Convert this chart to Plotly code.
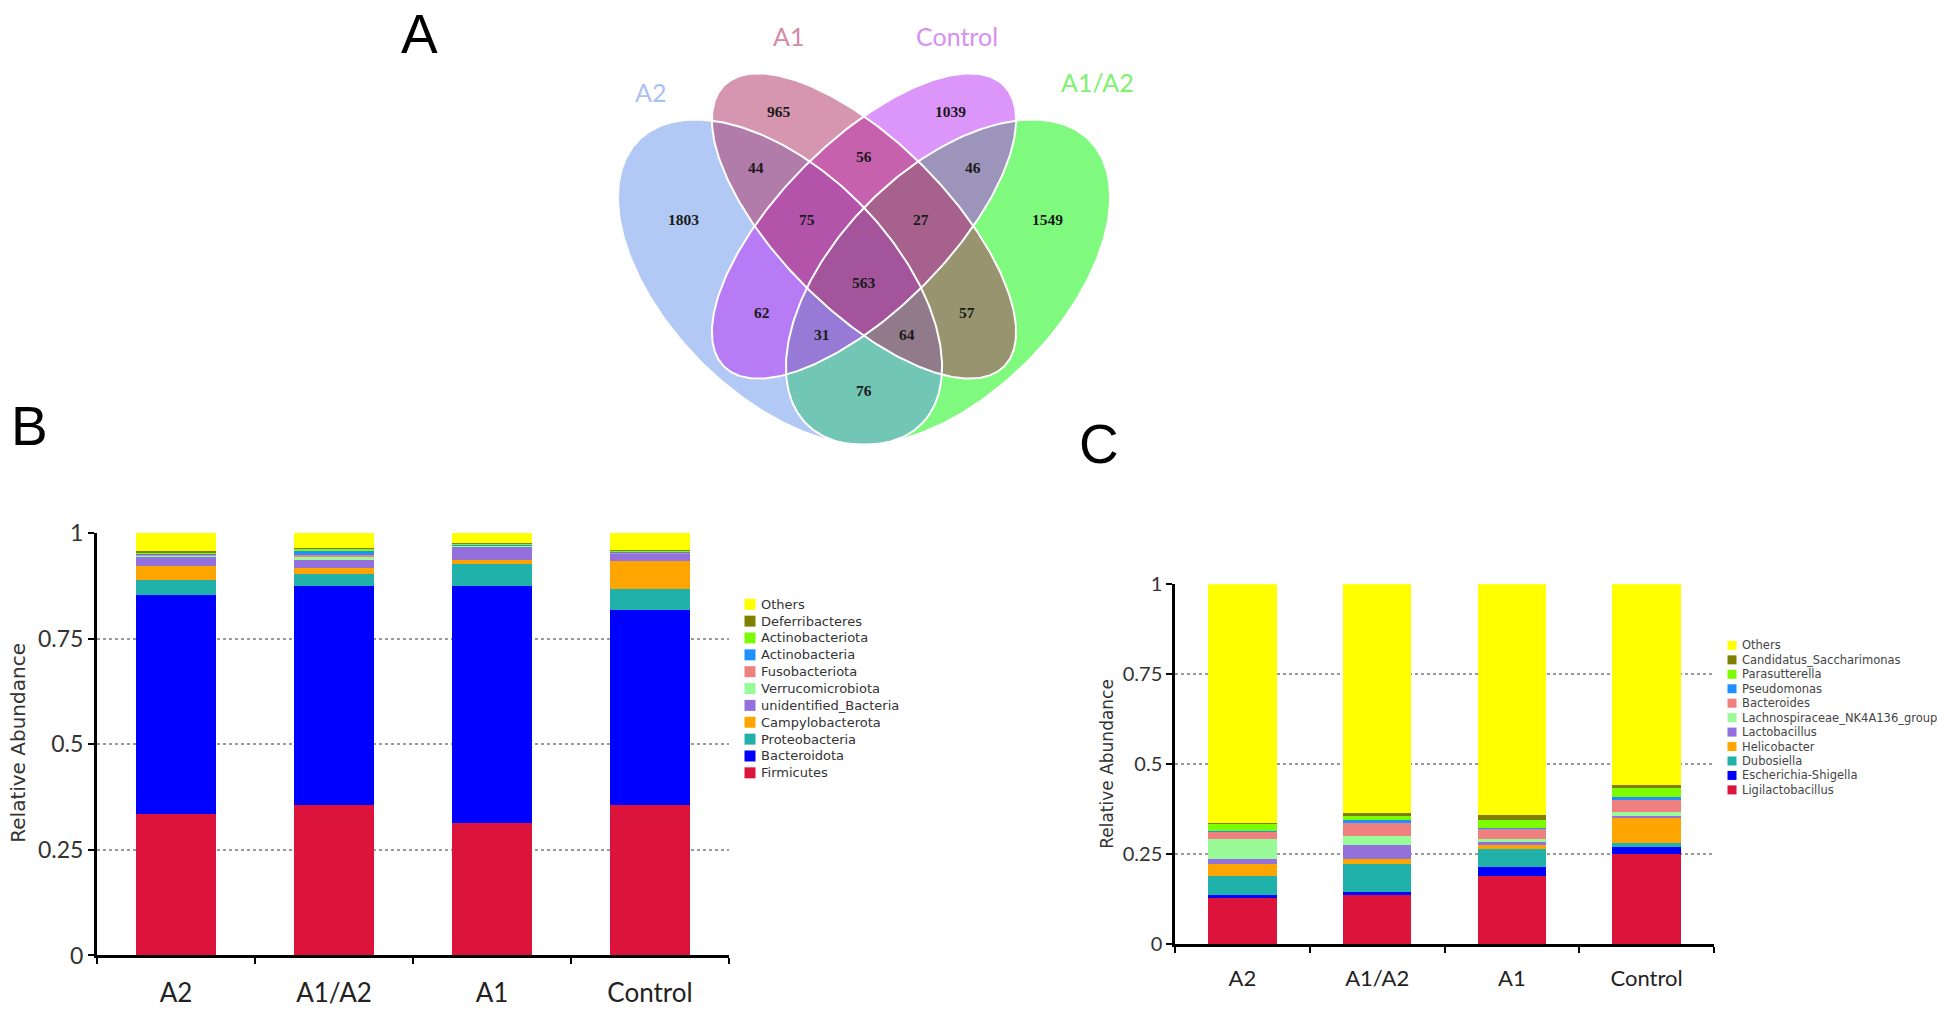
import numpy as np
import plotly.graph_objects as go

W, H = 1944, 1009

# ---------------- DATA ----------------
groups = ["A2", "A1/A2", "A1", "Control"]

# Panel A: Venn counts (OTUs)
venn_set_names = ["A2", "A1", "Control", "A1/A2"]
venn_regions = ["A2", "A1", "Control", "A1/A2",
                "A2&A1", "A1&Control", "Control&A1/A2",
                "A2&A1&Control", "A1&Control&A1/A2", "all",
                "A2&Control", "A1&A1/A2", "A2&Control&A1/A2", "A2&A1&A1/A2", "A2&A1/A2"]
venn_counts = [1803, 965, 1039, 1549,
               44, 56, 46,
               75, 27, 563,
               62, 57, 31, 64, 76]

# Panel B: phylum level relative abundance (bottom -> top)
phyla = ["Firmicutes", "Bacteroidota", "Proteobacteria", "Campylobacterota",
         "unidentified_Bacteria", "Verrucomicrobiota", "Fusobacteriota",
         "Actinobacteria", "Actinobacteriota", "Deferribacteres", "Others"]
firmicutes            = [0.335, 0.356, 0.313, 0.356]
bacteroidota          = [0.519, 0.519, 0.561, 0.461]
proteobacteria        = [0.034, 0.029, 0.052, 0.050]
campylobacterota      = [0.034, 0.014, 0.011, 0.066]
unidentified_bacteria = [0.022, 0.018, 0.032, 0.018]
verrucomicrobiota     = [0.001, 0.009, 0.001, 0.001]
fusobacteriota        = [0.005, 0.002, 0.001, 0.001]
actinobacteria        = [0.001, 0.012, 0.001, 0.001]
actinobacteriota      = [0.004, 0.004, 0.004, 0.005]
deferribacteres       = [0.002, 0.001, 0.001, 0.001]
others_phylum         = [0.043, 0.036, 0.023, 0.040]
phylum_values = [firmicutes, bacteroidota, proteobacteria, campylobacterota,
                 unidentified_bacteria, verrucomicrobiota, fusobacteriota,
                 actinobacteria, actinobacteriota, deferribacteres, others_phylum]

# Panel C: genus level relative abundance (bottom -> top)
genera = ["Ligilactobacillus", "Escherichia-Shigella", "Dubosiella", "Helicobacter",
          "Lactobacillus", "Lachnospiraceae_NK4A136_group", "Bacteroides",
          "Pseudomonas", "Parasutterella", "Candidatus_Saccharimonas", "Others"]
ligilactobacillus = [0.129, 0.136, 0.190, 0.252]
escherichia       = [0.009, 0.009, 0.026, 0.018]
dubosiella        = [0.051, 0.079, 0.050, 0.012]
helicobacter      = [0.035, 0.014, 0.011, 0.068]
lactobacillus     = [0.012, 0.037, 0.008, 0.007]
lachnospiraceae   = [0.057, 0.025, 0.007, 0.010]
bacteroides       = [0.019, 0.038, 0.029, 0.033]
pseudomonas       = [0.002, 0.008, 0.002, 0.008]
parasutterella    = [0.021, 0.011, 0.022, 0.025]
candidatus        = [0.002, 0.008, 0.014, 0.009]
others_genus      = [0.663, 0.635, 0.641, 0.558]
genus_values = [ligilactobacillus, escherichia, dubosiella, helicobacter,
                lactobacillus, lachnospiraceae, bacteroides, pseudomonas,
                parasutterella, candidatus, others_genus]

y_ticks = [0, 0.25, 0.5, 0.75, 1]
grid_ticks = [0.25, 0.5, 0.75]

# ---------------- STYLE / LAYOUT CONSTANTS ----------------
stack_colors = ["#DC143C", "#0000FF", "#20B2AA", "#FFA500", "#9370DB",
                "#98FB98", "#F08080", "#1E90FF", "#7CFC00", "#808000", "#FFFF00"]

# vertical calibration of the page (target y = K*page_y + OFF)
K, OFF = 0.969, 16.7


def page_y(y):
    return (y - OFF) / K


# Venn geometry in target-pixel space (cx, cy, a, b, angle); draw order matters
venn_geom = {
    "A1/A2":   (948, 283, 200, 112, -45),
    "A2":      (780, 283, 200, 112, 45),
    "Control": (864, 227, 198, 84, -45),
    "A1":      (864, 227, 198, 84, 45),
}
venn_fill = {
    "A1/A2": "rgba(0,245,0,0.5)",
    "A2": "rgba(101,145,235,0.5)",
    "Control": "rgba(185,45,245,0.5)",
    "A1": "rgba(175,45,95,0.5)",
}
venn_label_color = {"A2": "#a9c2f3", "A1": "#d48aa6", "Control": "#d690f2", "A1/A2": "#7cf26f"}
venn_label_pos = {"A2": (650, 93), "A1": (788, 38), "Control": (957, 38), "A1/A2": (1097, 83)}
venn_region_pos = [(683, 221), (779, 113), (950, 113), (1047, 221),
                   (756, 169), (864, 158), (973, 169),
                   (807, 221), (921, 221), (864, 283),
                   (762, 313), (967, 313), (822, 335), (907, 335), (864, 391)]

# Chart frames in target pixels
B_x0, B_x1, B_y0, B_y1 = 97, 729, 954, 533
C_x0, C_x1, C_y0, C_y1 = 1175, 1714, 943, 584

LABF = "Lato, Open Sans, sans-serif"
LEGF = "DejaVu Sans, Verdana, sans-serif"


def ellipse(cx, cy, a, b, ang_deg, n=300):
    t = np.linspace(0, 2 * np.pi, n)
    ph = np.deg2rad(ang_deg)
    x = cx + a * np.cos(t) * np.cos(ph) - b * np.sin(t) * np.sin(ph)
    y = cy + a * np.cos(t) * np.sin(ph) + b * np.sin(t) * np.cos(ph)
    return x, y


fig = go.Figure()

# ---- Panel B bars ----
for name, vals, col in zip(phyla, phylum_values, stack_colors):
    fig.add_trace(go.Bar(x=groups, y=vals, name=name, marker=dict(color=col, line=dict(width=0)),
                         xaxis="x", yaxis="y", showlegend=False))

# ---- Panel C bars ----
for name, vals, col in zip(genera, genus_values, stack_colors):
    fig.add_trace(go.Bar(x=groups, y=vals, name=name, marker=dict(color=col, line=dict(width=0)),
                         xaxis="x2", yaxis="y2", showlegend=False))

# ---- Panel A Venn ----
for s in ["A1/A2", "A2", "Control", "A1"]:
    ex, ey = ellipse(*venn_geom[s])
    fig.add_trace(go.Scatter(x=ex, y=ey, mode="lines", fill="toself", fillcolor=venn_fill[s],
                             line=dict(width=0), xaxis="x3", yaxis="y3", showlegend=False,
                             hoverinfo="skip"))
for s in ["A1/A2", "A2", "Control", "A1"]:
    ex, ey = ellipse(*venn_geom[s])
    fig.add_trace(go.Scatter(x=ex, y=ey, mode="lines", line=dict(color="white", width=2),
                             xaxis="x3", yaxis="y3", showlegend=False, hoverinfo="skip"))

annotations = []
for cnt, (px, py) in zip(venn_counts, venn_region_pos):
    annotations.append(dict(x=px, y=py, xref="x3", yref="y3", text=str(cnt), showarrow=False,
                            font=dict(family="Liberation Serif, Times New Roman, serif", size=15.5,
                                      color="#1a1a1a", weight=600)))
for s in venn_set_names:
    px, py = venn_label_pos[s]
    annotations.append(dict(x=px, y=py, xref="x3", yref="y3", text=s, showarrow=False,
                            font=dict(family=LABF, size=25, color=venn_label_color[s])))

# ---- custom legends (marker squares + text) ----
def add_legend(names, colors, x_sq, y_top, spacing, sq, fsize, text_x, color):
    ys = [y_top + i * spacing for i in range(len(names))]
    fig.add_trace(go.Scatter(x=[x_sq] * len(names), y=ys, mode="markers",
                             marker=dict(symbol="square", size=sq, color=list(colors), line=dict(width=0)),
                             xaxis="x3", yaxis="y3", showlegend=False, hoverinfo="skip"))
    for nm, yy in zip(names, ys):
        annotations.append(dict(x=text_x, y=yy, xref="x3", yref="y3", text=nm, showarrow=False,
                                xanchor="left", yanchor="middle",
                                font=dict(family=LEGF, size=fsize, color=color)))

add_legend(phyla[::-1], stack_colors[::-1], 750, 604, 16.8, 11, 13, 759, "#333333")
add_legend(genera[::-1], stack_colors[::-1], 1732, 645, 14.4, 9, 11.5, 1740, "#444444")

# ---- y titles ----
annotations.append(dict(x=18, y=742, xref="x3", yref="y3", text="Relative Abundance", textangle=-90,
                        showarrow=False, font=dict(family=LEGF, size=20, color="#333333")))
annotations.append(dict(x=1107, y=763, xref="x3", yref="y3", text="Relative Abundance", textangle=-90,
                        showarrow=False, font=dict(family=LEGF, size=17, color="#333333")))

# ---- panel letters ----
for letter, (px, py) in zip(["A", "B", "C"], [(419, 36), (29, 426), (1099, 444)]):
    annotations.append(dict(x=px, y=py, xref="x3", yref="y3", text=letter, showarrow=False,
                            font=dict(family="Liberation Sans, Arial, sans-serif", size=55, color="black")))


def xaxis_cfg(x0, x1, anchor, fsize, lw):
    return dict(domain=[x0 / W, x1 / W], anchor=anchor, type="category", range=[-0.5, 3.5],
                showline=True, linecolor="black", linewidth=lw, mirror=False,
                ticks="outside", tickson="boundaries", ticklen=6, tickwidth=2, tickcolor="black",
                tickfont=dict(family=LABF, size=fsize, color="#222222"), ticklabelstandoff=12,
                showgrid=False, zeroline=False, fixedrange=True)


def yaxis_cfg(y0, y1, anchor, fsize, lw):
    return dict(domain=[1 - page_y(y0) / H, 1 - page_y(y1) / H], anchor=anchor, range=[0, 1],
                tickmode="array", tickvals=y_ticks,
                showline=True, linecolor="black", linewidth=lw,
                ticks="outside", ticklen=6, tickwidth=2, tickcolor="black",
                tickfont=dict(family=LABF, size=fsize, color="#333333"),
                showgrid=False, zeroline=False, fixedrange=True,
                minor=dict(tickmode="array", tickvals=grid_ticks, showgrid=True, gridcolor="#9a9a9a",
                           griddash="dot", gridwidth=2, ticks=""))


fig.update_layout(
    width=W, height=H,
    margin=dict(l=0, r=0, t=0, b=0, pad=0),
    paper_bgcolor="white", plot_bgcolor="rgba(0,0,0,0)",
    barmode="stack", bargap=0.49,
    showlegend=False,
    xaxis=xaxis_cfg(B_x0, B_x1, "y", 26, 3),
    yaxis=yaxis_cfg(B_y0, B_y1, "x", 23, 3),
    xaxis2=xaxis_cfg(C_x0, C_x1, "y2", 22, 2.5),
    yaxis2=yaxis_cfg(C_y0, C_y1, "x2", 20, 2.5),
    xaxis3=dict(domain=[0, 1], anchor="y3", range=[0, W], visible=False, fixedrange=True),
    yaxis3=dict(domain=[0, 1], anchor="x3", range=[K * H + OFF, OFF], visible=False, fixedrange=True),
    annotations=annotations,
)

post = ("var gd=document.getElementById('{plot_id}');"
        "document.documentElement.style.margin='0';document.body.style.margin='0';"
        "document.body.style.overflow='hidden';document.documentElement.style.overflow='hidden';"
        "gd.style.position='fixed';gd.style.left='0px';gd.style.top='0px';")

fig.write_html("out.html", config={"displayModeBar": False}, post_script=post)
